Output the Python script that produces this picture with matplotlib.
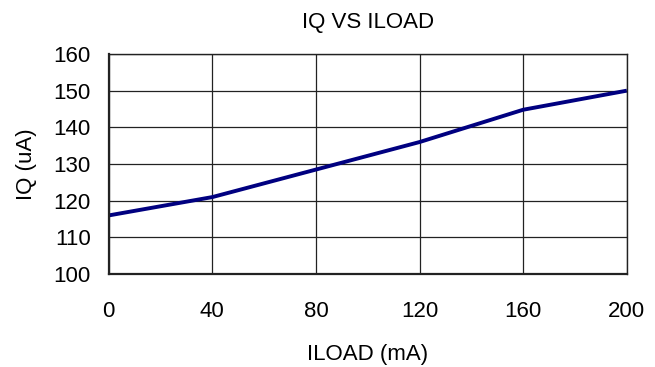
import numpy as np
import matplotlib.pyplot as plt

plt.rcParams['font.family'] = ['Liberation Sans', 'DejaVu Sans']

iload = [0, 40, 80, 120, 160, 200]
iq = [116, 121, 128.5, 136, 144.8, 150]
xticks = [0, 40, 80, 120, 160, 200]
yticks = [100, 110, 120, 130, 140, 150, 160]

fig = plt.figure(figsize=(6.55, 3.67), dpi=100)
a = fig.add_axes([0.166, 0.253, 0.791, 0.600])

a.plot(iload, iq, color="#000080", lw=2.8, solid_capstyle="butt")

a.set_xlim(0, 200)
a.set_ylim(100, 160)
a.set_xticks(xticks)
a.set_yticks(yticks)
a.grid(True, color="#222222", lw=0.9)
a.set_axisbelow(True)
a.tick_params(length=0, labelsize=16)
a.tick_params(axis="x", pad=19)
a.tick_params(axis="y", pad=13)
for s in a.spines.values():
    s.set_color("#222222")
    s.set_linewidth(1.0)
a.spines["left"].set_linewidth(1.6)
a.spines["bottom"].set_linewidth(1.6)

a.set_xlabel("ILOAD (mA)", fontsize=16, labelpad=16)
a.set_ylabel("IQ (uA)", fontsize=16, labelpad=12)
a.set_title("IQ VS ILOAD", fontsize=16, pad=19)

fig.savefig("out.png", dpi=100)
